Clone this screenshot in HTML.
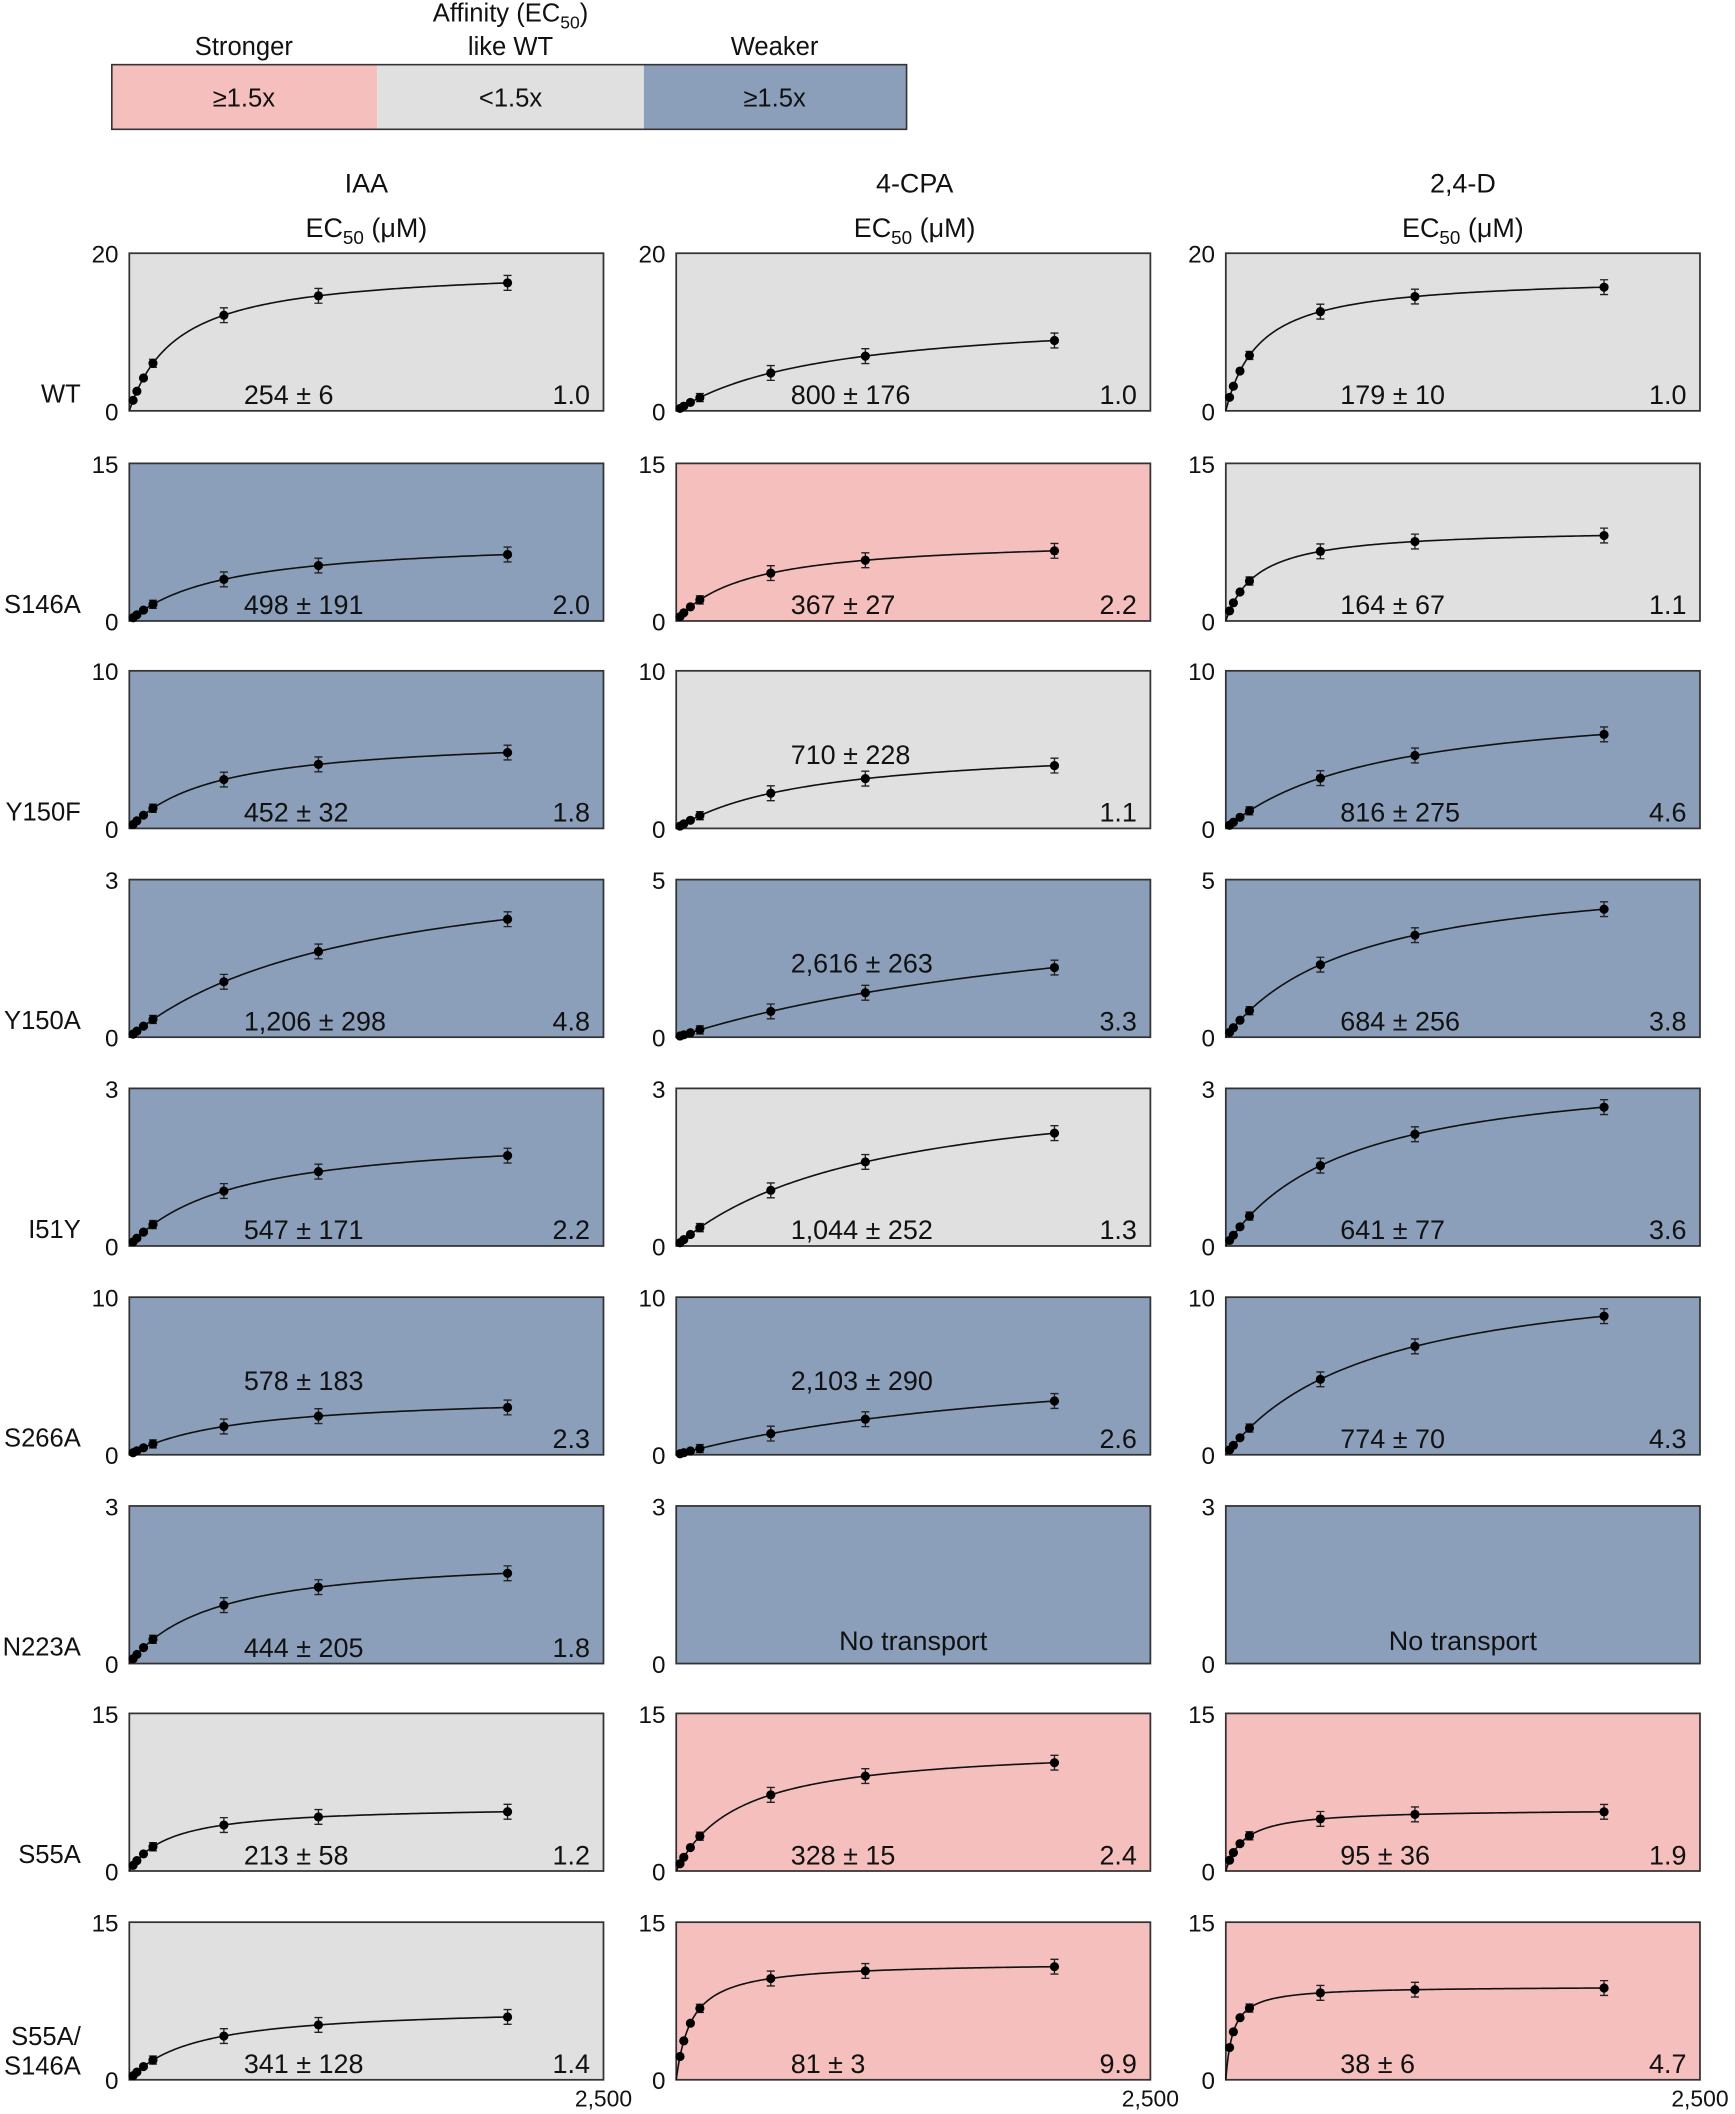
<!DOCTYPE html>
<html><head><meta charset="utf-8"><style>
html,body{margin:0;padding:0;background:#fff;}
svg{display:block;font-family:"Liberation Sans",sans-serif;}
</style></head><body>
<svg id="s" width="1735" height="2114" viewBox="0 0 1288 1569.4" preserveAspectRatio="none" xmlns="http://www.w3.org/2000/svg">
<rect x="0" y="0" width="1288" height="1570" fill="#fff"/>
<rect x="83" y="48" width="197" height="48" fill="#f4bfbd"/>
<rect x="280" y="48" width="198" height="48" fill="#e0e0e0"/>
<rect x="478" y="48" width="195" height="48" fill="#8b9fbb"/>
<rect x="83" y="48" width="590" height="48" fill="none" stroke="#333" stroke-width="1.2"/>
<g font-size="19" text-anchor="middle" fill="#111">
<text x="181" y="41">Stronger</text>
<text x="379" y="16">Affinity (EC<tspan font-size="13" dy="5">50</tspan><tspan dy="-5">)</tspan></text>
<text x="379" y="41">like WT</text>
<text x="575" y="41">Weaker</text>
<text x="181" y="79">≥1.5x</text>
<text x="379" y="79">&lt;1.5x</text>
<text x="575" y="79">≥1.5x</text>
<text x="272" y="143" font-size="20">IAA</text>
<text x="679" y="143" font-size="20">4-CPA</text>
<text x="1086" y="143" font-size="20">2,4-D</text>
<text x="272" y="176" font-size="20">EC<tspan font-size="14" dy="5">50</tspan><tspan dy="-5"> (μM)</tspan></text>
<text x="679" y="176" font-size="20">EC<tspan font-size="14" dy="5">50</tspan><tspan dy="-5"> (μM)</tspan></text>
<text x="1086" y="176" font-size="20">EC<tspan font-size="14" dy="5">50</tspan><tspan dy="-5"> (μM)</tspan></text>
</g>
<g id="g"></g>
</svg>
<script>
(function(){
var P='#f4bfbd',G='#e0e0e0',B='#8b9fbb';
var lefts=[96,502,910],W=352,H=117;
var tops=[188,344,498,653,808,963,1118,1272,1427];
var labels=['WT','S146A','Y150F','Y150A','I51Y','S266A','N223A','S55A',''];
var D=[
[[20,G,254,18.3,'254 ± 6','1.0'],[20,G,800,12.5,'800 ± 176','1.0'],[20,G,179,17.1,'179 ± 10','1.0']],
[[15,B,498,7.9,'498 ± 191','2.0'],[15,P,367,7.9,'367 ± 27','2.2'],[15,G,164,8.8,'164 ± 67','1.1']],
[[10,B,452,5.9,'452 ± 32','1.8'],[10,G,710,5.4,'710 ± 228','1.1',1],[10,B,816,8.4,'816 ± 275','4.6']],
[[3,B,1206,3.6,'1,206 ± 298','4.8'],[5,B,2616,5.1,'2,616 ± 263','3.3',1],[5,B,684,5.45,'684 ± 256','3.8']],
[[3,B,547,2.19,'547 ± 171','2.2'],[3,G,1044,3.27,'1,044 ± 252','1.3'],[3,B,641,3.49,'641 ± 77','3.6']],
[[10,B,578,3.87,'578 ± 183','2.3',1],[10,B,2103,7.0,'2,103 ± 290','2.6',1],[10,B,774,12.2,'774 ± 70','4.3']],
[[3,B,444,2.1,'444 ± 205','1.8'],[3,B,0,0,'',''],[3,B,0,0,'','']],
[[15,G,213,6.24,'213 ± 58','1.2'],[15,P,328,12.0,'328 ± 15','2.4'],[15,P,95,5.9,'95 ± 36','1.9']],
[[15,G,341,7.0,'341 ± 128','1.4'],[15,P,81,11.2,'81 ± 3','9.9'],[15,P,38,8.9,'38 ± 6','4.7']]
];
var C=[20,40,75,125,500,1000,2000];
var o='';
function tx(x,y,s,a,fs){return '<text x="'+x+'" y="'+y+'" text-anchor="'+a+'" font-size="'+fs+'" fill="#111">'+s+'</text>';}
for(var r=0;r<9;r++){
 var tp=tops[r],bt=tp+H;
 if(labels[r])o+=tx(60,bt-6,labels[r],'end',19);
 else{o+=tx(60,bt-26,'S55A/','end',19);o+=tx(60,bt-4,'S146A','end',19);}
 for(var c=0;c<3;c++){
  var d=D[r][c],L=lefts[c],ym=d[0];
  o+='<rect x="'+L+'" y="'+tp+'" width="'+W+'" height="'+H+'" fill="'+d[1]+'" stroke="#333" stroke-width="1.3"/>';
  o+=tx(L-8,tp+7,ym,'end',18);
  o+=tx(L-8,bt+7,'0','end',18);
  if(r==8)o+=tx(L+W,bt+20,'2,500','middle',17);
  if(!d[2]){o+=tx(L+W/2,bt-10,'No transport','middle',20);continue;}
  var p='';
  for(var i=0;i<=200;i++){var v=2000*Math.pow(i/200,2);var f=d[3]*v/(d[2]+v);
   p+=(i?'L':'M')+(L+v/2500*351).toFixed(2)+' '+(bt-f/ym*H).toFixed(2);}
  o+='<path d="'+p+'" fill="none" stroke="#111" stroke-width="1.2"/>';
  for(var k=0;k<7;k++){
   var v2=C[k],f2=d[3]*v2/(d[2]+v2),x=L+v2/2500*351,y=bt-f2/ym*H;
   if(k>=3){var e=(k>=4?5.5:3);
    o+='<path d="M'+x+' '+(y-e)+'V'+(y+e)+'M'+(x-3)+' '+(y-e)+'h6M'+(x-3)+' '+(y+e)+'h6" stroke="#222" stroke-width="1" fill="none"/>';}
   o+='<circle cx="'+x.toFixed(2)+'" cy="'+y.toFixed(2)+'" r="3.4" fill="#000"/>';
  }
  o+=tx(L+85,d[6]?tp+69:bt-5,d[4],'start',20);
  o+=tx(L+W-10,bt-5,d[5],'end',20);
 }
}
document.getElementById('g').innerHTML=o;
})();
</script>
</body></html>
